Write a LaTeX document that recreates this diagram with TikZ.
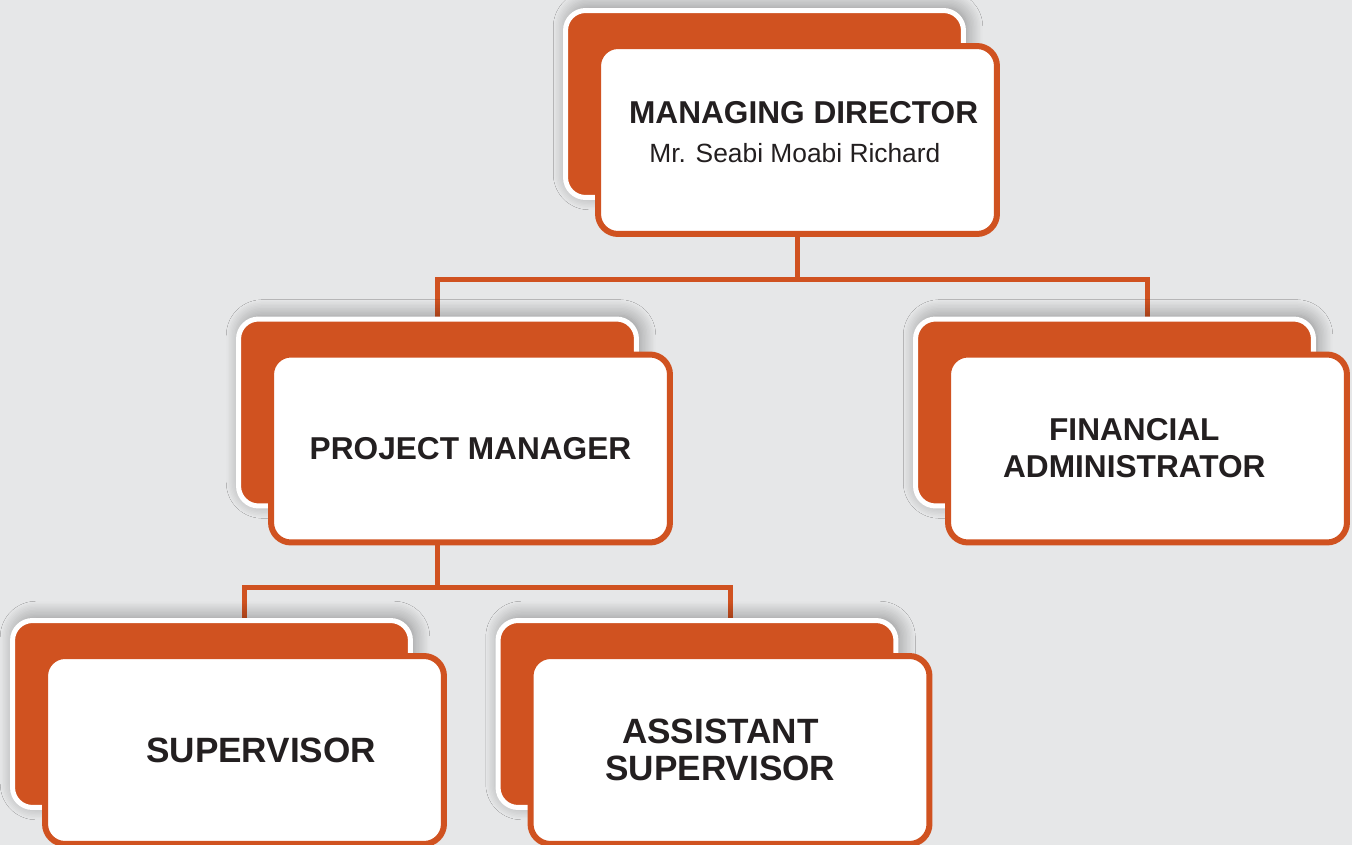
\documentclass[tikz,border=0pt]{standalone}
\usepackage{fontspec}
\setmainfont{Liberation Sans}
\usetikzlibrary{positioning,backgrounds,shadows.blur}
\definecolor{rust}{HTML}{D05220}
\definecolor{bggray}{HTML}{E6E7E8}
\definecolor{ink}{HTML}{231F20}

\begin{document}
\begin{tikzpicture}[x=0.02cm,y=-0.02cm]
	\tikzset{back/.style={rectangle,rounded corners=0.4cm,fill=rust,draw=white,line width=0.1cm,
			inner sep=0pt,minimum width=7.96cm,minimum height=3.74cm,
			blur shadow={shadow xshift=2pt,shadow yshift=2pt,shadow blur radius=9pt,
				shadow blur steps=12,shadow opacity=40}},
		front/.style={rectangle,rounded corners=0.4cm,fill=white,draw=rust,line width=0.12cm,
			inner sep=0pt,minimum width=7.98cm,minimum height=3.76cm,align=center,text=ink,
			font=\bfseries\fontsize{18}{21}\selectfont},
		big/.style={font=\bfseries\fontsize{20}{21.5}\selectfont},
		link/.style={draw=rust,line width=0.1cm}}
	\useasboundingbox (0,0) rectangle (1352,845);
	% cards
	\node [back] (mdb) at (764.5,104) {};
	\node [front, text depth=9pt] (md) at (797.5,140) {\hspace*{7pt}MANAGING DIRECTOR\\[1.5pt]{\mdseries\fontsize{15}{18}\selectfont Mr. Seabi Moabi Richard\hspace*{3pt}}};
	\node [back] (pmb) at (437.5,412.5) {};
	\node [front] (pm) at (470.5,448.5) {PROJECT MANAGER};
	\node [back] (fab) at (1114.5,412.5) {};
	\node [front] (fa) at (1147.5,448.5) {FINANCIAL\hspace*{15pt}\\ADMINISTRATOR\hspace*{15pt}};
	\node [back] (svb) at (211.5,714) {};
	\node [front, big] (sv) at (244.5,750) {\hspace*{19pt}SUPERVISOR};
	\node [back] (asb) at (697,714) {};
	\node [front, big] (as) at (730,750) {ASSISTANT\hspace*{11pt}\\SUPERVISOR\hspace*{11pt}};
	% links behind the cards
	\begin{scope}[on background layer]
		\fill [bggray] (0,0) rectangle (1352,845);
		\draw [link] (md.south) -- ++(0,43) coordinate (mdj);
		\draw [link] (pmb.north) |- (mdj) -| (fa.north);
		\draw [link] (pmb.center |- pm.south) -- ++(0,42) coordinate (pmj);
		\draw [link] (sv.north) |- (pmj) -| (as.north);
	\end{scope}
\end{tikzpicture}
\end{document}
